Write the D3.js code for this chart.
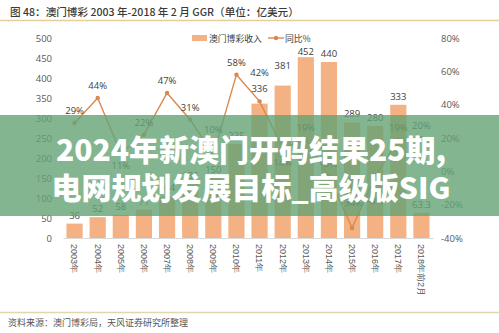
<!DOCTYPE html>
<html><head><meta charset="utf-8">
<script src="https://cdn.jsdelivr.net/npm/d3@7"></script>
<style>
html,body{margin:0;padding:0;background:#fff;}
svg{display:block;font-family:"Noto Sans CJK SC","Noto Sans",sans-serif;}
</style></head>
<body><svg id="c" width="499" height="333"></svg>
<script>
const categories = ["2003年","2004年","2005年","2006年","2007年","2008年","2009年","2010年","2011年","2012年","2013年","2014年","2015年","2016年","2017年","2018年前2月"];
const revenue = [36,52,58,71,104,136,150,235,336,381,452,440,289,280,333,63.3];
const yoyPct = [29,44,11,22,47,31,10,58,42,14,19,-3,-34,-3,19,20];
const leftTicks = [0,50,100,150,200,250,300,350,400,450,500];
const rightTicks = [-40,-20,0,20,40,60,80];
const titleText = "图 48：澳门博彩 2003 年-2018 年 2 月 GGR（单位：亿美元）";
const sourceText = "资料来源：澳门博彩局，天风证券研究所整理";
const legendNames = ["澳门博彩收入","同比%"];
const overlayLines = ["2024年新澳门开码结果25期,","电网规划发展目标_高级版SIG"];

const svg = d3.select("#c");
const barColor = "#f4b183", lineColor = "#d9894f";
const numFont = "'Open Sans','Noto Sans',sans-serif";

// title
svg.append("text").attr("x",10).attr("y",16).attr("font-size",10.6).attr("font-weight",500).attr("fill","#3a3a3a").text(titleText);
svg.append("line").attr("x1",0).attr("x2",499).attr("y1",20.5).attr("y2",20.5).attr("stroke","#e2cf9c").attr("stroke-width",1.5);

const x = d3.scaleBand().domain(categories).range([63,433]).paddingInner(0.3).paddingOuter(0.15);
const yL = d3.scaleLinear().domain([0,500]).range([238,38]);
const yR = d3.scaleLinear().domain([-40,80]).range([238,38]);

// axes
const gl = svg.append("g").attr("transform","translate(55,0)").call(d3.axisLeft(yL).tickValues(leftTicks).tickSize(0).tickPadding(3));
const gr = svg.append("g").attr("transform","translate(438,0)").call(d3.axisRight(yR).tickValues(rightTicks).tickSize(0).tickPadding(3).tickFormat(d=>d+"%"));
[gl,gr].forEach(g=>{g.select(".domain").remove(); g.selectAll("text").attr("font-size",9.5).attr("fill","#595959").attr("font-family",numFont);});

const gx = svg.append("g").attr("transform","translate(0,238)").call(d3.axisBottom(x).tickSize(0).tickPadding(0));
gx.select(".domain").attr("stroke","#d9d9d9");
gx.selectAll("text").attr("font-size",9).attr("fill","#595959")
  .attr("transform","rotate(90)").attr("text-anchor","start").attr("dy","0.35em").attr("x",6).attr("y",0);

// bars
svg.append("g").selectAll("rect").data(revenue).join("rect")
  .attr("x",(d,i)=>x(categories[i])).attr("width",x.bandwidth())
  .attr("y",d=>yL(d)).attr("height",d=>yL(0)-yL(d)).attr("fill",barColor);
const barLabelShift = {"2011年":-12,"2012年":-17,"2013年":-2};
svg.append("g").selectAll("text").data(revenue).join("text")
  .attr("x",(d,i)=>x(categories[i])+x.bandwidth()/2)
  .attr("y",(d,i)=>yL(d)+(barLabelShift[categories[i]]!==undefined?barLabelShift[categories[i]]:-5))
  .attr("text-anchor","middle").attr("font-size",9.5).attr("fill","#404040")
  .attr("font-family",numFont).text(d=>d);

// line
const cx = i=>x(categories[i])+x.bandwidth()/2;
const line = d3.line().x((d,i)=>cx(i)).y(d=>yR(d));
svg.append("path").datum(yoyPct).attr("d",line).attr("fill","none").attr("stroke",lineColor).attr("stroke-width",1.4);
svg.append("g").selectAll("circle").data(yoyPct).join("circle")
  .attr("cx",(d,i)=>cx(i)).attr("cy",d=>yR(d)).attr("r",2.2).attr("fill",lineColor);
const labelShift = {"2005年":16,"2009年":-22,"2011年":-25,"2012年":18,"2015年":-22,"2016年":28};
svg.append("g").selectAll("text").data(yoyPct).join("text")
  .attr("x",(d,i)=>cx(i)).attr("y",(d,i)=>yR(d)+(labelShift[categories[i]]!==undefined?labelShift[categories[i]]:-9))
  .attr("text-anchor","middle").attr("font-size",9.5).attr("fill","#404040")
  .attr("font-family",numFont).text(d=>d+"%");

// legend
const lg = svg.append("g");
lg.append("rect").attr("x",192).attr("y",35).attr("width",15).attr("height",6).attr("fill",barColor);
lg.append("text").attr("x",209).attr("y",41.5).attr("font-size",8.8).attr("fill","#404040").text(legendNames[0]);
lg.append("line").attr("x1",268).attr("x2",284).attr("y1",38).attr("y2",38).attr("stroke",lineColor).attr("stroke-width",1.4);
lg.append("circle").attr("cx",276).attr("cy",38).attr("r",2.2).attr("fill",lineColor);
lg.append("text").attr("x",285).attr("y",41.5).attr("font-size",8.8).attr("fill","#404040").text(legendNames[1]);

// bottom source
svg.append("line").attr("x1",0).attr("x2",499).attr("y1",312.5).attr("y2",312.5).attr("stroke","#e2d6ae").attr("stroke-width",1.5);
svg.append("text").attr("x",8).attr("y",326).attr("font-size",9).attr("fill","#555").text(sourceText);

// overlay band
svg.append("rect").attr("x",0).attr("y",115).attr("width",499).attr("height",101).attr("fill","rgb(100,162,116)").attr("opacity",0.8);
overlayLines.forEach((t,i)=>{
  svg.append("text").attr("x",251).attr("y",161+i*38).attr("text-anchor","middle")
    .attr("font-size",30).attr("font-weight",900).attr("fill","#fff").text(t);
});
</script></body></html>
